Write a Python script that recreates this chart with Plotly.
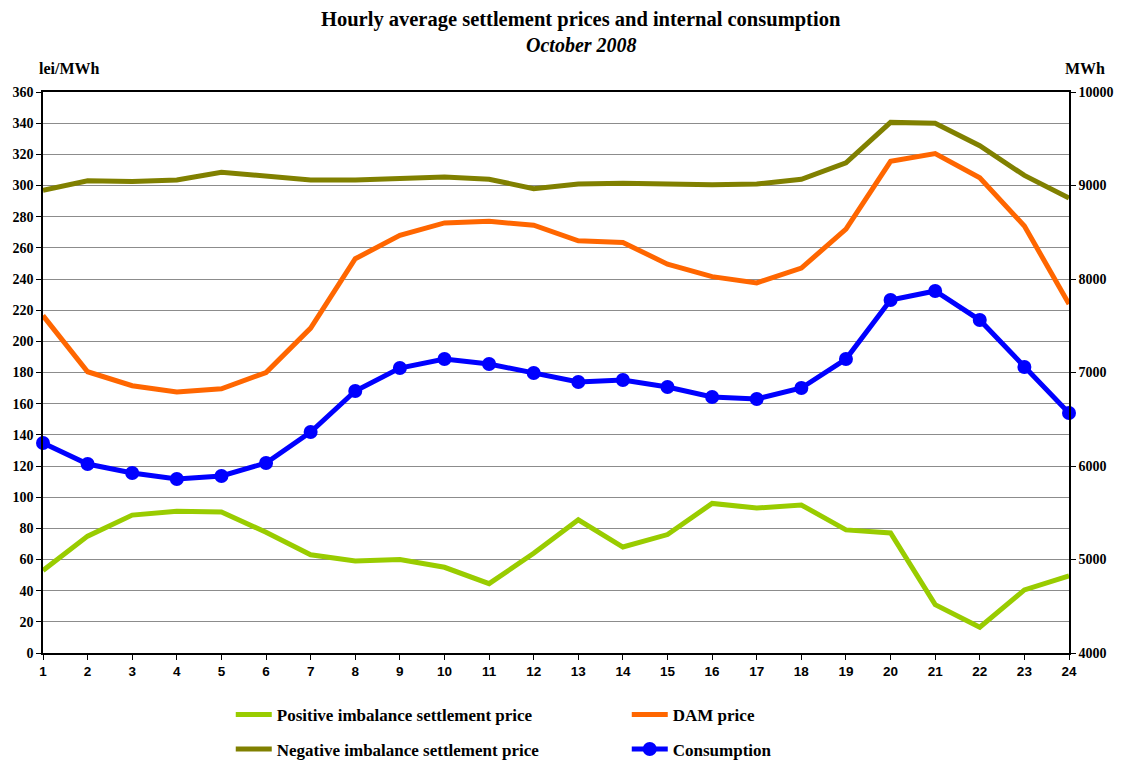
import plotly.graph_objects as go

hours = list(range(1, 25))
positive_price = [53, 75, 88.5, 91, 90.5, 77.5, 63, 59, 60, 55, 44.5, 64,
                  85.5, 68, 76, 96, 93, 95, 79, 77, 31, 16.5, 40.5, 49.5]
negative_price = [297, 303, 302.5, 303.5, 308.5, 306, 303.5, 303.5, 304.5, 305.5, 304, 298,
                  301, 301.5, 301, 300.5, 301, 304, 314.5, 340.5, 340, 325.5, 306.5, 292]
dam_price = [216.5, 180.5, 171.5, 167.5, 169.5, 180, 208.5, 253, 268, 276, 277, 274.5,
             264.5, 263.5, 249.5, 241.5, 237.5, 247, 272, 315.5, 320.5, 305, 274, 224]
consumption = [6246, 6021, 5925, 5861, 5893, 6032, 6364, 6802, 7048, 7144, 7091, 6995,
               6898, 6920, 6845, 6738, 6717, 6834, 7144, 7775, 7872, 7561, 7059, 6567]

serif = "Liberation Serif"
sans = "Liberation Sans"
LW = 5

fig = go.Figure()
fig.add_trace(go.Scatter(x=hours, y=positive_price, mode="lines", legend="legend",
                         name="<b>Positive imbalance settlement price</b>",
                         line=dict(color="#99CC00", width=LW), cliponaxis=False))
fig.add_trace(go.Scatter(x=hours, y=dam_price, mode="lines", legend="legend",
                         name="<b>DAM price</b>",
                         line=dict(color="#FF6600", width=LW), cliponaxis=False))
fig.add_trace(go.Scatter(x=hours, y=negative_price, mode="lines", legend="legend2",
                         name="<b>Negative imbalance settlement price</b>",
                         line=dict(color="#808000", width=LW), cliponaxis=False))
fig.add_trace(go.Scatter(x=hours, y=consumption, mode="lines+markers", yaxis="y2", legend="legend2",
                         name="<b>Consumption</b>",
                         line=dict(color="#0000FF", width=LW),
                         marker=dict(color="#0000FF", size=14), cliponaxis=False))

legend_common = dict(orientation="h", x=0.183, xanchor="left", yanchor="middle",
                     entrywidth=345, entrywidthmode="pixels",
                     font=dict(family=serif, size=17, color="black"),
                     bgcolor="rgba(0,0,0,0)", itemwidth=36)

fig.update_layout(
    width=1114, height=754,
    paper_bgcolor="white", plot_bgcolor="white",
    margin=dict(l=35, r=53, t=84, b=109, autoexpand=False),
    xaxis=dict(range=[1, 24], tickmode="array", tickvals=hours, ticktext=[f"<b>{h}</b>" for h in hours],
               tickfont=dict(family=sans, size=13.5, color="black"), automargin=False,
               showgrid=False, showline=True, linecolor="black", linewidth=1.5, mirror=True,
               ticks="outside", ticklen=5, tickcolor="black", zeroline=False),
    yaxis=dict(range=[0, 360], dtick=20, tickfont=dict(family=serif, size=14, color="black"),
               showgrid=True, gridcolor="#8c8c8c", gridwidth=1, automargin=False,
               showline=True, linecolor="black", linewidth=1.5,
               ticks="outside", ticklen=5, tickcolor="black", zeroline=False,
               tickprefix="<b>", ticksuffix="</b>"),
    yaxis2=dict(range=[4000, 10000], dtick=1000, overlaying="y", side="right", tickformat="d",
                tickfont=dict(family=serif, size=14, color="black"), automargin=False,
                showgrid=False, showline=True, linecolor="black", linewidth=1.5,
                ticks="outside", ticklen=5, tickcolor="black", zeroline=False,
                tickprefix="<b>", ticksuffix="</b>"),
    legend=dict(y=-0.1105, **legend_common),
    legend2=dict(y=-0.172, **legend_common),
    annotations=[
        dict(text="<b>Hourly average settlement prices and internal consumption</b>",
             xref="paper", yref="paper", x=(581 - 43) / 1026, y=1 + (92 - 20) / 561,
             xanchor="center", yanchor="middle", showarrow=False,
             font=dict(family=serif, size=20.5, color="black")),
        dict(text="<b><i>October 2008</i></b>",
             xref="paper", yref="paper", x=(581 - 43) / 1026, y=1 + (92 - 45) / 561,
             xanchor="center", yanchor="middle", showarrow=False,
             font=dict(family=serif, size=20, color="black")),
        dict(text="<b>lei/MWh</b>", xref="paper", yref="paper", x=(69 - 43) / 1026, y=1 + (92 - 68) / 561,
             xanchor="center", yanchor="middle", showarrow=False,
             font=dict(family=serif, size=16, color="black")),
        dict(text="<b>MWh</b>", xref="paper", yref="paper", x=(1085 - 43) / 1026, y=1 + (92 - 68) / 561,
             xanchor="center", yanchor="middle", showarrow=False,
             font=dict(family=serif, size=16, color="black")),
    ],
)

fig.write_html("out.html")
